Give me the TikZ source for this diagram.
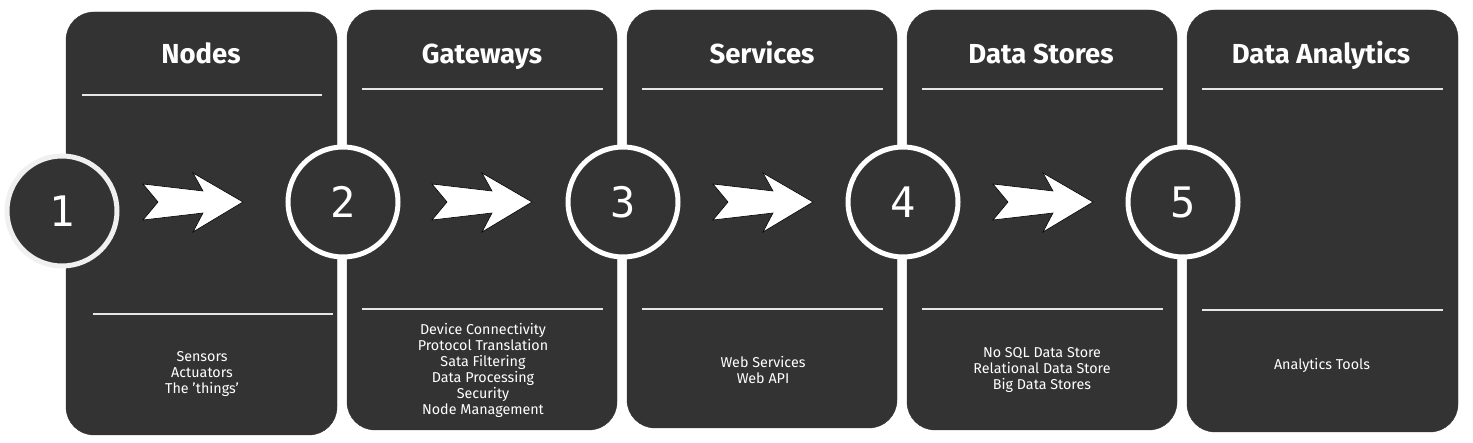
\documentclass[tikz,border=0pt]{standalone}
\usepackage{fontspec}
\setmainfont{Fira Sans}
\newfontfamily\numfont{DejaVu Sans Mono}
\definecolor{panel}{HTML}{333333}
\definecolor{rule}{HTML}{E6E6E6}
\begin{document}
\begin{tikzpicture}[x=1pt,y=-1pt,
  panelbox/.style={fill=panel,draw=panel,rounded corners=28pt},
  sepline/.style={draw=rule,line width=1.8pt},
  numcircle/.style={circle,fill=panel,draw=white,line width=5pt,minimum size=110pt,inner sep=0pt,text=white,font=\numfont\fontsize{42}{42}\selectfont},
  titletext/.style={text=white,anchor=base,font=\bfseries\fontsize{27.5}{30}\selectfont},
  listtext/.style={text=white,align=center,font=\fontsize{14.3}{16}\selectfont},
  blockarrow/.style={fill=white,draw=black,line width=0.6pt,line join=miter}
]
\useasboundingbox (0,0) rectangle (1473,443);
% panels
\path[panelbox] (66,12) rectangle (337,435);
\path[panelbox] (347,10) rectangle (617,430);
\path[panelbox] (627,10) rectangle (897,428);
\path[panelbox] (907,10) rectangle (1177,430);
\path[panelbox] (1187,10) rectangle (1458,432);
% titles
\node[titletext] (t1) at (201,64) {Nodes};
\node[titletext] (t2) at (482,64) {Gateways};
\node[titletext] (t3) at (762,64) {Services};
\node[titletext] (t4) at (1041,64) {Data Stores};
\node[titletext] (t5) at (1321,64) {Data Analytics};
% separator lines
\draw[sepline] (82,95) -- (322,95);
\draw[sepline] (362,89) -- (603,89);
\draw[sepline] (642,89) -- (883,89);
\draw[sepline] (922,89) -- (1163,89);
\draw[sepline] (1202,89) -- (1443,89);
\draw[sepline] (93,314) -- (333,314);
\draw[sepline] (362,309) -- (603,309);
\draw[sepline] (642,309) -- (883,309);
\draw[sepline] (922,309) -- (1163,309);
\draw[sepline] (1202,310) -- (1443,310);
% lists
\node[listtext] (l1) at (202,374) {Sensors\\Actuators\\The 'things'};
\node[listtext] (l2) at (483,370) {Device Connectivity\\Protocol Translation\\Sata Filtering\\Data Processing\\Security\\Node Management};
\node[listtext] (l3) at (763,370) {Web Services\\Web API};
\node[listtext] (l4) at (1042,370) {No SQL Data Store\\Relational Data Store\\Big Data Stores};
\node[listtext] (l5) at (1322,365) {Analytics Tools};
% arrows
\foreach \dx in {0,289,570,850}{
  \path[blockarrow,shift={(\dx,0)}] (143,184) -- (158,202) -- (143,220) -- (203,213)
    -- (193,232) -- (243,202) -- (193,173) -- (203,191) -- cycle;
}
% circles
\node[numcircle,draw=white!94!black] (c1) at (62,211) {1};
\node[numcircle] (c2) at (343,202) {2};
\node[numcircle] (c3) at (623,202) {3};
\node[numcircle] (c4) at (903,202) {4};
\node[numcircle] (c5) at (1183,202) {5};
\end{tikzpicture}
\end{document}
